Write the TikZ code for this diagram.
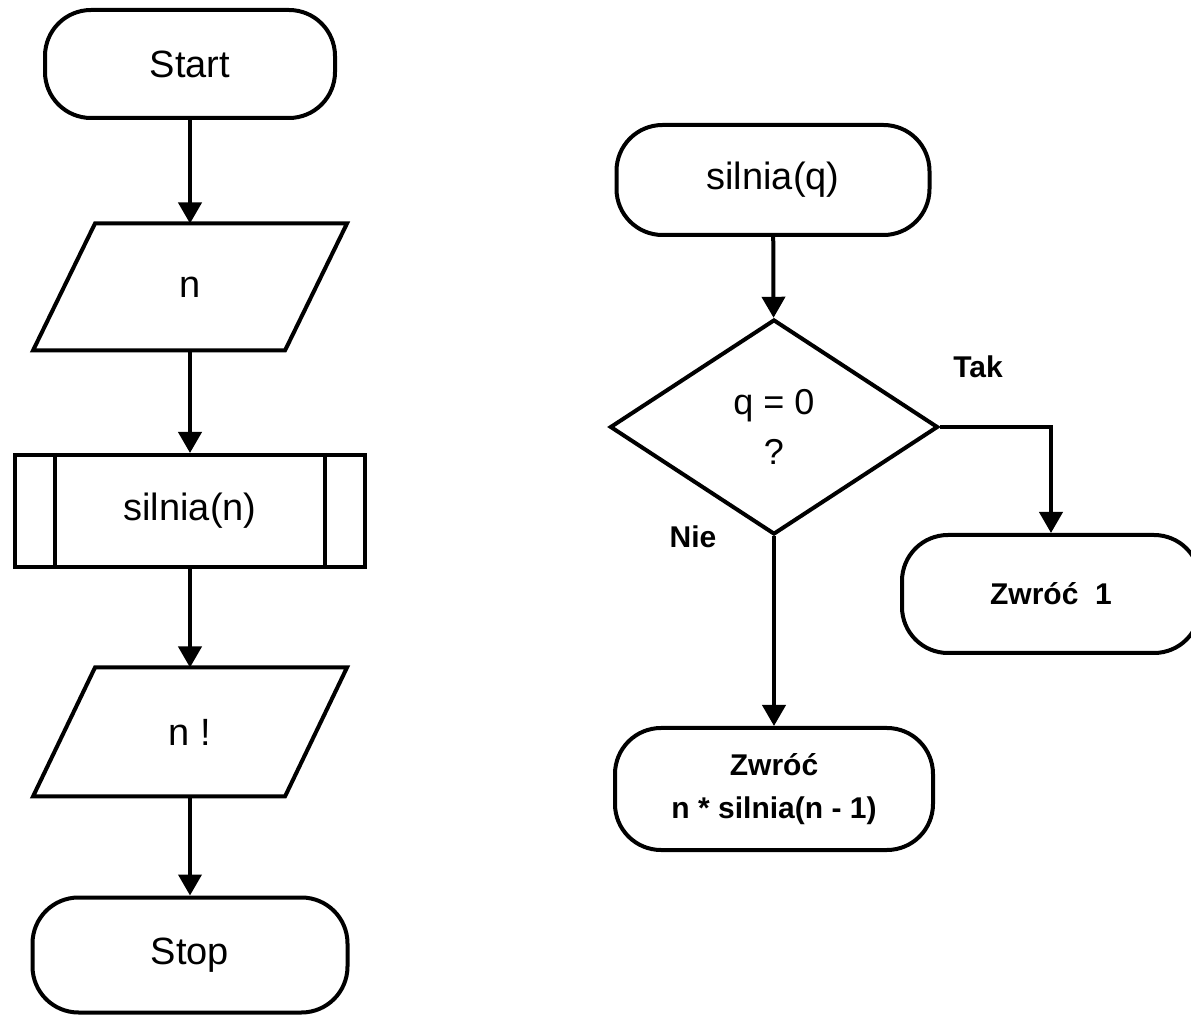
\documentclass[tikz,border=0pt]{standalone}
\usepackage{fontspec}
\setmainfont{Liberation Sans}
\usetikzlibrary{arrows.meta,shapes.geometric}
\begin{document}
\begin{tikzpicture}[x=0.5pt,y=-0.5pt,
  base/.style={line width=2pt, inner sep=0pt, font=\fontsize{19}{22}\selectfont},
  term/.style={base, draw, rounded corners=23pt},
  bterm/.style={term, font=\fontsize{15}{21.5}\selectfont\bfseries, align=center},
  ghost/.style={base},
  arr/.style={line width=2pt, -{Triangle[length=10.5pt,width=11.5pt]}},
  lbl/.style={font=\fontsize{15}{18}\selectfont\bfseries}
]
\useasboundingbox (0,0) rectangle (1191,1016);
% left column
\node[term, minimum width=145pt, minimum height=54pt] (start) at (190,64) {Start};
\node[ghost, minimum width=93pt, minimum height=61.5pt] (pn) at (190,287) {n};
\draw[base] ([xshift=-31pt]pn.south west) -- (pn.north west) -- ([xshift=31pt]pn.north east) -- (pn.south east) -- cycle;
\node[base, draw, minimum width=175pt, minimum height=56pt] (sub) at (190,511) {silnia(n)};
\draw[base] ([xshift=21pt]sub.north west) -- ([xshift=21pt]sub.south west);
\draw[base] ([xshift=-21pt]sub.north east) -- ([xshift=-21pt]sub.south east);
\node[ghost, minimum width=93pt, minimum height=62.5pt] (po) at (190,732) {n !};
\draw[base] ([xshift=-31pt]po.south west) -- (po.north west) -- ([xshift=31pt]po.north east) -- (po.south east) -- cycle;
\node[term, minimum width=157.5pt, minimum height=57.5pt] (stop) at (190,955) {Stop};
\draw[arr] (start) -- (pn);
\draw[arr] (pn) -- (sub);
\draw[arr] (sub) -- (po);
\draw[arr] (po) -- (stop);
% right column
\node[term, minimum width=156.5pt, minimum height=55pt] (sq) at (773,180) {silnia(q)};
\node[base, draw, diamond, minimum width=164pt, minimum height=107.5pt, align=center, font=\fontsize{18}{22}\selectfont] (dia) at (774,427) {q = 0\\[3pt]?};
\node[bterm, minimum width=149pt, minimum height=59pt] (z1) at (1051,594) {Zwróć\ \ 1};
\node[bterm, minimum width=159pt, minimum height=61pt] (zn) at (774,789) {Zwróć\\n * silnia(n - 1)};
\node[lbl] (tak) at (978,367) {Tak};
\node[lbl] (nie) at (693,537) {Nie};
\draw[arr] (sq) -- (dia);
\draw[arr] (dia.east) -| (z1.north);
\draw[arr] (dia.south) -- (zn.north);
\end{tikzpicture}
\end{document}
